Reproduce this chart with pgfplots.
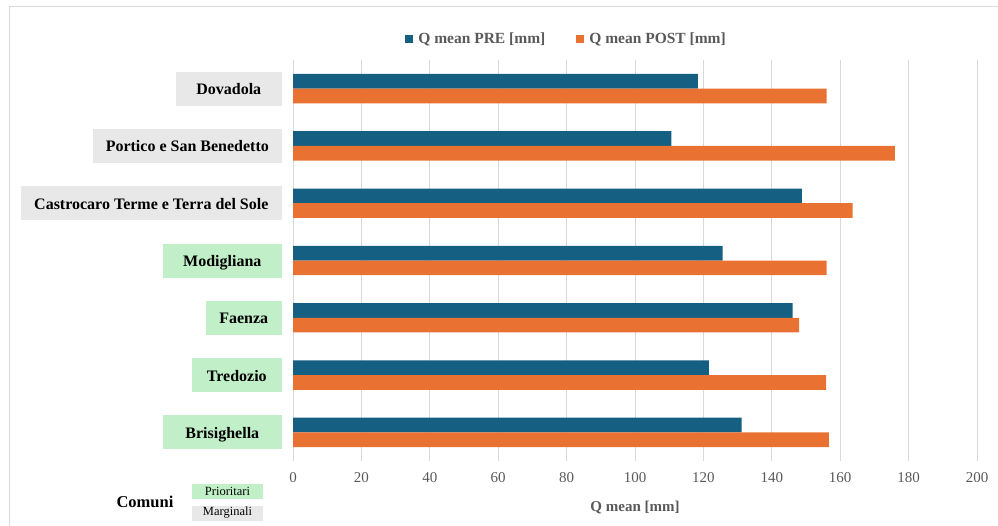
\documentclass[border=0pt]{standalone}
\usepackage{pgfplots}
\pgfplotsset{compat=1.18}
\usepackage{fontspec}
\setmainfont{Liberation Serif}
\definecolor{preblue}{HTML}{156082}
\definecolor{postorange}{HTML}{E97132}
\definecolor{gridgray}{HTML}{D9D9D9}
\definecolor{labgray}{HTML}{E8E8E8}
\definecolor{labgreen}{HTML}{C1F0C8}
\definecolor{txtgray}{HTML}{595959}
\newcommand{\lab}[3]{{\setlength{\fboxsep}{0pt}\colorbox{#1}{\makebox[#2]{\rule[-11pt]{0pt}{34pt}\fontsize{16}{19}\bfseries #3}}}}
\pgfplotstableread{
y pre post
0 131.2 156.7
1 121.6 155.9
2 146.1 148.0
3 125.6 156.0
4 148.8 163.6
5 110.6 176.0
6 118.4 156.0
}\datatable
\begin{document}
\begin{tikzpicture}
\useasboundingbox (0pt,0pt) rectangle (998pt,-526pt);
\draw[gridgray, line width=1pt] (9pt,-7pt) rectangle (1010pt,-540pt);
\begin{axis}[
  at={(293pt,-461pt)}, anchor=south west,
  scale only axis, width=684pt, height=401pt,
  xbar, bar width=14.7pt,
  xmin=0, xmax=200, ymin=-0.5, ymax=6.5,
  xtick={0,20,...,200},
  ytick={0,1,2,3,4,5,6},
  yticklabels={
    \lab{labgreen}{119pt}{Brisighella},
    \lab{labgreen}{90pt}{Tredozio},
    \lab{labgreen}{76pt}{Faenza},
    \lab{labgreen}{119pt}{Modigliana},
    \lab{labgray}{261pt}{Castrocaro Terme e Terra del Sole},
    \lab{labgray}{189pt}{Portico e San Benedetto},
    \lab{labgray}{106pt}{Dovadola}},
  yticklabel style={inner sep=0pt, anchor=east, xshift=-11pt},
  xticklabel style={font=\fontsize{15}{18}\selectfont, text=txtgray, yshift=-8pt},
  /pgf/number format/assume math mode=true,
  xmajorgrids, grid style={gridgray, line width=0.9pt},
  axis line style={draw=none},
  tick style={draw=none},
  major tick length=0pt,
  xlabel={Q mean [mm]},
  xlabel style={at={(axis description cs:0.5,-0.115)}, anchor=center, font=\fontsize{15}{18}\selectfont\bfseries, text=txtgray},
  legend style={at={(axis description cs:0.4,1.053)}, anchor=center, draw=none, fill=none,
    font=\fontsize{15.5}{18}\selectfont\bfseries, text=txtgray,
    /tikz/every even column/.append style={column sep=29pt},
    /tikz/every odd column/.append style={column sep=3pt}},
  legend columns=2,
]
\addplot[fill=preblue, draw=none, bar shift=7.35pt,
  legend image code/.code={\fill[preblue] (0pt,-4pt) rectangle (8pt,4pt);}]
  table[x=pre, y=y] {\datatable};
\addplot[fill=postorange, draw=none, bar shift=-7.35pt,
  legend image code/.code={\fill[postorange] (0pt,-4pt) rectangle (8pt,4pt);}]
  table[x=post, y=y] {\datatable};
\legend{Q mean PRE [mm], Q mean POST [mm]}
\end{axis}
\node[font=\fontsize{16.5}{19}\selectfont\bfseries, anchor=base] at (145pt,-507pt) {Comuni};
\fill[labgreen] (192pt,-483.5pt) rectangle (263pt,-498.5pt);
\fill[labgray] (192pt,-505.5pt) rectangle (263pt,-521pt);
\node[font=\fontsize{12.5}{14}\selectfont] at (227.5pt,-491pt) {Prioritari};
\node[font=\fontsize{12.5}{14}\selectfont] at (227.5pt,-513pt) {Marginali};
\end{tikzpicture}
\end{document}
